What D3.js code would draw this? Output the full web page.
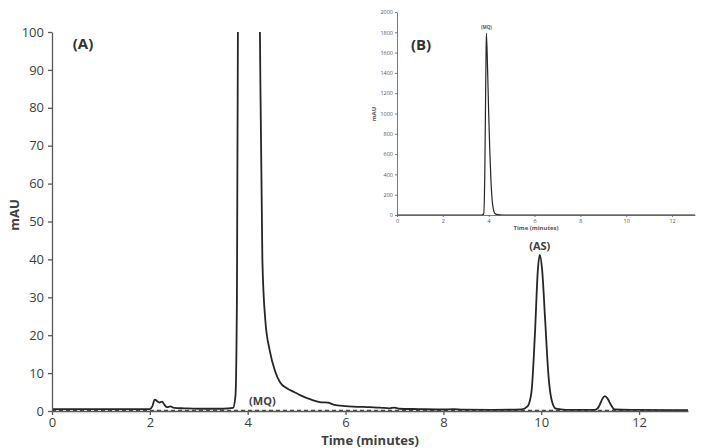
<!DOCTYPE html>
<html>
<head>
<meta charset="utf-8">
<script src="https://cdn.jsdelivr.net/npm/d3@7"></script>
<style>
body { margin: 0; background: #fff; }
svg { font-family: "Open Sans", "Liberation Sans", sans-serif; }
</style>
</head>
<body>
<script>
const width = 707;
const height = 448;

// main trace (A), time in minutes, absorbance in mAU
const sampleTrace = [
    [0, 0.5], [1, 0.5], [2, 0.5], [2.05, 1.2], [2.1, 3.0], [2.15, 2.6], [2.2, 2.2],
    [2.25, 2.5], [2.3, 1.6], [2.35, 1.0], [2.42, 1.2], [2.5, 0.8], [2.7, 0.7],
    [3.0, 0.6], [3.5, 0.6], [3.7, 0.8], [3.75, 4], [3.78, 30], [3.8, 100],
    [3.85, 800], [3.9, 1790], [4.0, 1200], [4.1, 500], [4.2, 180], [4.25, 100],
    [4.3, 40], [4.36, 24], [4.45, 16], [4.56, 10.5], [4.66, 7.6], [4.8, 6.0],
    [4.95, 5.0], [5.07, 4.2], [5.3, 3.0], [5.5, 2.3], [5.64, 2.2], [5.75, 1.7],
    [6.0, 1.3], [6.5, 1.0], [6.7, 0.9], [6.9, 0.7], [7.0, 0.9], [7.1, 0.6],
    [7.5, 0.5], [8.0, 0.4], [8.2, 0.5], [8.4, 0.35], [9.0, 0.3], [9.6, 0.4],
    [9.72, 1.2], [9.8, 5], [9.87, 20], [9.93, 37], [9.97, 41.2], [10.02, 37],
    [10.08, 24], [10.15, 9], [10.22, 2.5], [10.3, 0.6], [10.5, 0.3], [11.1, 0.3],
    [11.18, 1.2], [11.25, 3.2], [11.3, 3.9], [11.36, 3.2], [11.43, 1.5],
    [11.5, 0.4], [12, 0.3], [13, 0.2]
];

// blank trace (dashed)
const blankTrace = [
    [0, 0.1], [2, 0.1], [4, 0.15], [6, 0.1], [8, 0.1], [10, 0.15], [11.3, 0.1], [13, 0.1]
];

// inset trace (B)
const insetTrace = [
    [0, 0], [3.7, 0], [3.78, 10], [3.83, 400], [3.88, 1500], [3.9, 1790],
    [3.95, 1450], [4.0, 1000], [4.05, 620], [4.1, 330], [4.15, 150], [4.2, 60],
    [4.27, 15], [4.4, 3], [4.6, 0], [13, 0]
];

const mainXTicks = [0, 2, 4, 6, 8, 10, 12];
const mainYTicks = [0, 10, 20, 30, 40, 50, 60, 70, 80, 90, 100];
const insetYTicks = [0, 200, 400, 600, 800, 1000, 1200, 1400, 1600, 1800, 2000];

const svg = d3.select('body').append('svg')
    .attr('width', width)
    .attr('height', height);

const axisColor = "#595959";
const lineColor = "#262626";

// ---- main panel ----
const x = d3.scaleLinear().domain([0, 13]).range([52, 688]);
const y = d3.scaleLinear().domain([0, 100]).range([411, 32]);

svg.append("clipPath").attr("id", "clipA")
    .append("rect")
    .attr("x", x(0)).attr("y", y(100))
    .attr("width", x(13) - x(0)).attr("height", y(0) - y(100) + 2);

const line = d3.line()
    .x(d => x(d[0]))
    .y(d => y(d[1]))
    .curve(d3.curveMonotoneX);

svg.append("path")
    .attr("d", line(blankTrace))
    .attr("fill", "none")
    .attr("stroke", "#444")
    .attr("stroke-width", 1.6)
    .attr("stroke-dasharray", "4,3");

svg.append("path")
    .attr("d", line(sampleTrace))
    .attr("clip-path", "url(#clipA)")
    .attr("fill", "none")
    .attr("stroke", lineColor)
    .attr("stroke-width", 1.8);

const xAxis = svg.append("g")
    .attr("transform", `translate(0,${y(0)})`)
    .call(d3.axisBottom(x).tickValues(mainXTicks).tickSize(4).tickSizeOuter(0));
const yAxis = svg.append("g")
    .attr("transform", `translate(${x(0)},0)`)
    .call(d3.axisLeft(y).tickValues(mainYTicks).tickSize(4).tickSizeOuter(0));

[xAxis, yAxis].forEach(a => {
    a.select(".domain").attr("stroke", axisColor).attr("stroke-width", 1.3);
    a.selectAll(".tick line").attr("stroke", axisColor).attr("stroke-width", 1.3);
    a.selectAll(".tick text")
        .attr("fill", "#404040")
        .attr("font-size", "13px")
        .attr("font-family", "'Open Sans', sans-serif");
});
yAxis.selectAll(".tick text").attr("dx", "-1px");

svg.append("text")
    .attr("x", 370)
    .attr("y", 445)
    .attr("text-anchor", "middle")
    .attr("font-size", "13px")
    .attr("font-weight", "bold")
    .attr("fill", "#404040")
    .text("Time (minutes)");

svg.append("text")
    .attr("transform", "translate(19,215) rotate(-90)")
    .attr("text-anchor", "middle")
    .attr("font-size", "13px")
    .attr("font-weight", "bold")
    .attr("fill", "#404040")
    .text("mAU");

svg.append("text")
    .attr("x", 83)
    .attr("y", 49)
    .attr("text-anchor", "middle")
    .attr("font-size", "15px")
    .attr("font-weight", "bold")
    .attr("fill", "#333")
    .text("(A)");

svg.append("text")
    .attr("x", x(4.3))
    .attr("y", y(1.6))
    .attr("text-anchor", "middle")
    .attr("font-size", "11px")
    .attr("font-weight", "bold")
    .attr("fill", "#404040")
    .text("(MQ)");

svg.append("text")
    .attr("x", x(9.97))
    .attr("y", y(41.2) - 5)
    .attr("text-anchor", "middle")
    .attr("font-size", "11px")
    .attr("font-weight", "bold")
    .attr("fill", "#404040")
    .text("(AS)");

// ---- inset panel ----
const xi = d3.scaleLinear().domain([0, 13]).range([397, 695]);
const yi = d3.scaleLinear().domain([0, 2000]).range([215, 12]);

const lineI = d3.line()
    .x(d => xi(d[0]))
    .y(d => yi(d[1]))
    .curve(d3.curveMonotoneX);

svg.append("path")
    .attr("d", lineI(insetTrace))
    .attr("fill", "none")
    .attr("stroke", lineColor)
    .attr("stroke-width", 1.2);

const xiAxis = svg.append("g")
    .attr("transform", `translate(0,${yi(0)})`)
    .call(d3.axisBottom(xi).tickValues(mainXTicks).tickSize(2).tickSizeOuter(0));
const yiAxis = svg.append("g")
    .attr("transform", `translate(${xi(0)},0)`)
    .call(d3.axisLeft(yi).tickValues(insetYTicks).tickFormat(d3.format("d")).tickSize(2).tickSizeOuter(0));

[xiAxis, yiAxis].forEach(a => {
    a.select(".domain").attr("stroke", axisColor).attr("stroke-width", 0.8);
    a.selectAll(".tick line").attr("stroke", axisColor).attr("stroke-width", 0.8);
    a.selectAll(".tick text")
        .attr("fill", "#555")
        .attr("font-size", "5.5px")
        .attr("font-family", "'Open Sans', sans-serif");
});
yiAxis.selectAll(".tick text").attr("dx", "1px");
xiAxis.selectAll(".tick text").attr("dy", "0.6em");

svg.append("text")
    .attr("x", 536)
    .attr("y", 230)
    .attr("text-anchor", "middle")
    .attr("font-size", "6px")
    .attr("font-weight", "bold")
    .attr("fill", "#555")
    .text("Time (minutes)");

svg.append("text")
    .attr("transform", "translate(376,114) rotate(-90)")
    .attr("text-anchor", "middle")
    .attr("font-size", "6px")
    .attr("font-weight", "bold")
    .attr("fill", "#555")
    .text("mAU");

svg.append("text")
    .attr("x", 421)
    .attr("y", 50)
    .attr("text-anchor", "middle")
    .attr("font-size", "15px")
    .attr("font-weight", "bold")
    .attr("fill", "#333")
    .text("(B)");

svg.append("text")
    .attr("x", xi(3.9))
    .attr("y", yi(1790) - 4)
    .attr("text-anchor", "middle")
    .attr("font-size", "4.5px")
    .attr("font-weight", "bold")
    .attr("fill", "#555")
    .text("(MQ)");
</script>
</body>
</html>
